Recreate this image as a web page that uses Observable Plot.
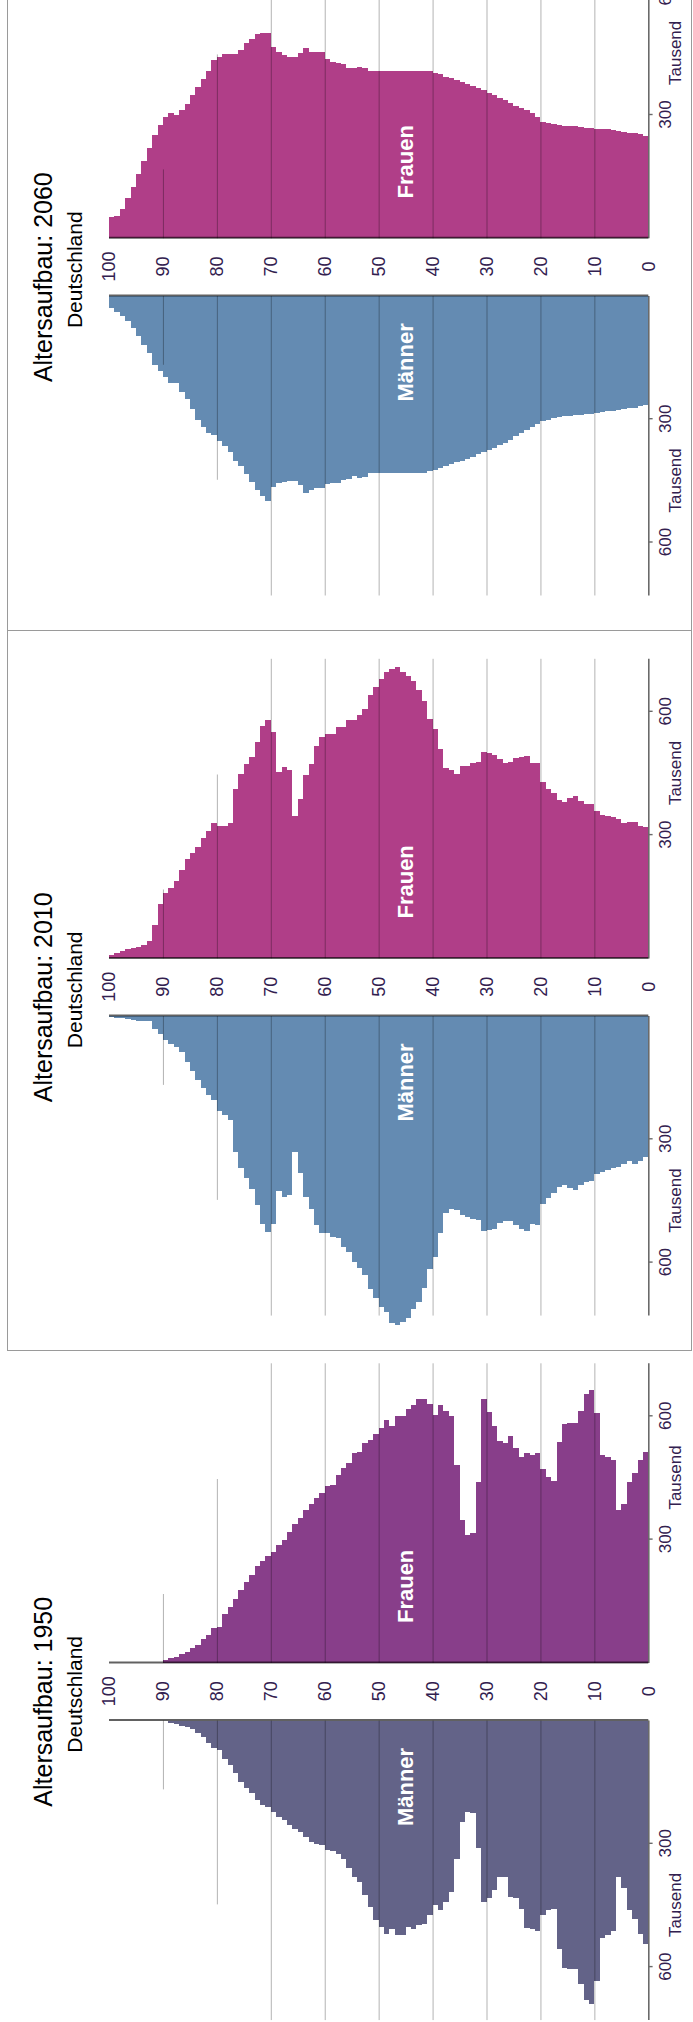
<!DOCTYPE html>
<html><head><meta charset="utf-8">
<script src="https://cdn.jsdelivr.net/npm/d3@7"></script>
<script src="https://cdn.jsdelivr.net/npm/@observablehq/plot@0.6"></script>
<style>
html,body{margin:0;padding:0;background:#fff;}
body{width:693px;height:2022px;overflow:hidden;position:relative;font-family:"Liberation Sans",Arial,sans-serif;}
#rot{position:absolute;left:0;top:0;width:2022px;height:693px;transform-origin:0 0;transform:translate(0,2022px) rotate(-90deg);overflow:hidden;}
.panel{position:absolute;top:0;height:693px;}
.panel svg{display:block;max-width:none!important;}
.title{position:absolute;font-size:25px;line-height:25px;color:#000;white-space:nowrap;}
.sub{position:absolute;font-size:21px;line-height:21px;color:#000;white-space:nowrap;}
.ln{position:absolute;background:#9a9a9a;}
</style></head><body><div id="rot"></div>
<script>
// ---------- data (population in thousands, by single year of age, starting at age 0) ----------
const years = ["1950", "2010", "2060"];
const titlePrefix = "Altersaufbau: ";
const subtitle = "Deutschland";
const sexLabels = ["Männer", "Frauen"];
const ageTicks = [0, 10, 20, 30, 40, 50, 60, 70, 80, 90, 100];
const valueTicks = [300, 600];
const unitLabel = "Tausend";

const men1950 = [543,519,484,462,407,380,512,523,529,633,
 689,680,641,604,604,602,555,458,462,474,
 512,507,504,458,433,429,380,380,413,433,
 441,311,226,223,246,336,417,441,462,450,
 474,494,498,507,502,523,523,507,519,502,
 486,454,425,393,380,358,338,325,317,315,
 303,301,295,283,271,265,254,242,234,222,
 211,206,193,177,165,149,128,108,94,72,
 67,54,41,31,21,15,13,8,5,2];
const women1950 = [514,493,461,440,386,371,493,502,507,608,
 665,654,613,583,583,582,537,442,453,471,
 510,507,510,500,524,551,534,540,577,610,
 642,440,316,310,347,481,600,612,628,602,
 630,642,642,628,618,601,600,577,591,571,
 556,542,534,514,511,487,473,457,432,430,
 414,402,387,373,352,338,318,298,288,269,
 259,249,235,214,197,177,155,135,118,87,
 84,69,57,44,37,27,22,14,11,7];
const men2010 = [343,352,360,354,361,368,370,374,379,385,
 401,405,411,424,418,410,415,430,442,458,
 508,505,524,518,509,499,499,504,518,520,
 522,497,493,489,483,473,469,479,528,587,
 616,663,697,712,734,745,751,747,720,707,
 685,665,630,613,598,575,563,540,538,528,
 528,508,469,440,381,331,436,440,425,505,
 526,505,460,421,395,370,330,252,240,230,
 205,191,174,155,133,111,88,76,68,58,
 43,31,12,11,11,9,7,5,4,2];
const women2010 = [319,323,331,331,329,339,343,346,350,359,
 376,376,384,396,390,380,385,402,412,430,
 476,476,492,489,487,477,475,485,496,499,
 502,479,475,469,467,449,458,463,510,559,
 583,626,654,674,688,696,710,705,696,680,
 660,640,606,593,581,579,564,563,546,546,
 538,516,473,446,388,347,459,465,453,550,
 580,566,526,489,473,449,412,329,323,323,
 329,309,294,270,256,241,215,189,171,158,
 132,81,42,32,28,26,24,18,12,8];
const men2060 = [265,269,272,273,275,277,279,281,283,285,
 287,287,289,289,291,293,295,297,301,305,
 311,318,326,334,342,350,357,363,369,375,
 380,385,391,397,401,405,409,413,418,423,
 427,431,431,431,431,431,431,431,431,431,
 431,431,440,442,438,446,449,456,456,457,
 468,468,472,480,460,450,450,453,456,464,
 500,488,472,454,433,415,401,381,365,354,
 338,334,318,302,276,251,233,212,212,198,
 182,168,139,119,97,78,62,50,40,29];
const women2060 = [249,253,255,255,258,261,264,265,265,266,
 268,269,272,273,274,274,276,277,280,284,
 296,304,311,316,322,330,337,342,349,354,
 361,365,371,375,381,385,389,393,400,403,
 406,406,406,407,407,406,406,406,406,406,
 406,406,414,418,414,414,423,426,430,436,
 453,453,454,462,450,440,440,446,454,466,
 500,500,496,484,474,458,448,448,448,442,
 434,406,387,369,349,326,312,300,304,296,
 276,251,219,188,157,124,97,71,54,53];

const menSeries = [men1950, men2010, men2060];
const womenSeries = [women1950, women2010, women2060];

// ---------- layout & style (unrotated frame 2022 x 693, then turned 90° ccw) ----------
const K = 0.411;           // px per thousand
const GAP = 28.8 / K;      // half gap between the two baselines, in thousand units
const H = 693;
const Y0 = 648.3, Y100 = 109;
const layout = [
  {left: 0, width: 672, center: 330.3},
  {left: 672, width: 719, center: 362.8},
  {left: 1391, width: 631, center: 363.9}
];
const menColors = ["#636388", "#648bb2", "#648bb2"];
const womenColors = ["#883e8a", "#b03e88", "#b03e88"];
const axisText = "#32204f";
const FONT = "'Liberation Sans', Arial, sans-serif";
const gridLen = a => (a <= 70 ? 799 : a === 80 ? 517.5 : 237.7);
const AXIS_END = 799;

const root = document.getElementById("rot");

years.forEach((yr, p) => {
  const L = layout[p];
  const menData = menSeries[p].map((v, i) => ({age: i, v}));
  const womenData = womenSeries[p].map((v, i) => ({age: i, v}));
  const sides = [-1, 1];
  const gridData = ageTicks.filter(a => a > 0 && a < 100).flatMap(a => sides.map(s => ({a, s})));
  const tickData = valueTicks.flatMap(t => sides.map(s => ({t, s})));

  const chart = Plot.plot({
    width: L.width,
    height: H,
    style: {fontFamily: FONT, background: "transparent", overflow: "visible"},
    x: {domain: [-L.center / K, (L.width - L.center) / K], range: [0, L.width], axis: null},
    y: {domain: [0, 100], range: [Y0, Y100], axis: null},
    marks: [
      Plot.rect(menData, {x1: -GAP, x2: d => -(GAP + d.v), y1: d => d.age, y2: d => d.age + 1,
        fill: menColors[p], inset: 0, shapeRendering: "crispEdges"}),
      Plot.rect(womenData, {x1: GAP, x2: d => GAP + d.v, y1: d => d.age, y2: d => d.age + 1,
        fill: womenColors[p], inset: 0, shapeRendering: "crispEdges"}),
      Plot.ruleY(gridData, {y: "a", x1: d => d.s * GAP, x2: d => d.s * gridLen(d.a),
        stroke: "#000", strokeOpacity: 0.3, strokeWidth: 1}),
      Plot.ruleY(sides, {y: 0, x1: s => s * GAP, x2: s => s * AXIS_END, stroke: "#6a6a6a", strokeWidth: 1.6}),
      Plot.ruleX(tickData, {x: d => d.s * (GAP + d.t), y1: 0, y2: -0.8, stroke: "#6a6a6a", strokeWidth: 1.4}),
      Plot.ruleX(sides, {x: s => s * GAP, y1: 0, y2: 100, stroke: "#000", strokeOpacity: 0.62, strokeWidth: 2}),
      Plot.text(tickData, {x: d => d.s * (GAP + d.t), y: 0, text: d => String(d.t), dy: 16.3,
        fontSize: 17, fill: axisText}),
      Plot.text(sides, {x: s => s * (GAP + 450), y: 0, text: () => unitLabel, dy: 26.3,
        fontSize: 17, fill: axisText}),
      Plot.text(ageTicks, {x: 0, y: d => d, text: d => String(d), fontSize: 18, fill: axisText}),
      Plot.text(sexLabels, {x: (d, i) => (i === 0 ? -(GAP + 163) : GAP + 185), y: 45, text: d => d,
        fill: "#fff", fontWeight: "bold", fontSize: 22})
    ]
  });
  const div = document.createElement("div");
  div.className = "panel";
  div.style.left = L.left + "px";
  div.style.width = L.width + "px";
  div.appendChild(chart);
  root.appendChild(div);

  const t = document.createElement("div");
  t.className = "title";
  t.textContent = titlePrefix + yr;
  t.style.left = (L.left + L.center - 115) + "px";
  t.style.top = "30.5px";
  root.appendChild(t);
  const s = document.createElement("div");
  s.className = "sub";
  s.textContent = subtitle;
  s.style.left = (L.left + L.center - 61) + "px";
  s.style.top = "63.9px";
  root.appendChild(s);
});

// frame around the 2010 and 2060 panels
function line(x, y, w, h) {
  const d = document.createElement("div");
  d.className = "ln";
  Object.assign(d.style, {left: x + "px", top: y + "px", width: w + "px", height: h + "px"});
  root.appendChild(d);
}
line(670.5, 6.5, 2022 - 670.5, 1.7);
line(670.5, 690.5, 2022 - 670.5, 1.7);
line(670.5, 6.5, 1.7, 685.7);
line(1390.5, 6.5, 1.7, 685.7);
</script></body></html>
